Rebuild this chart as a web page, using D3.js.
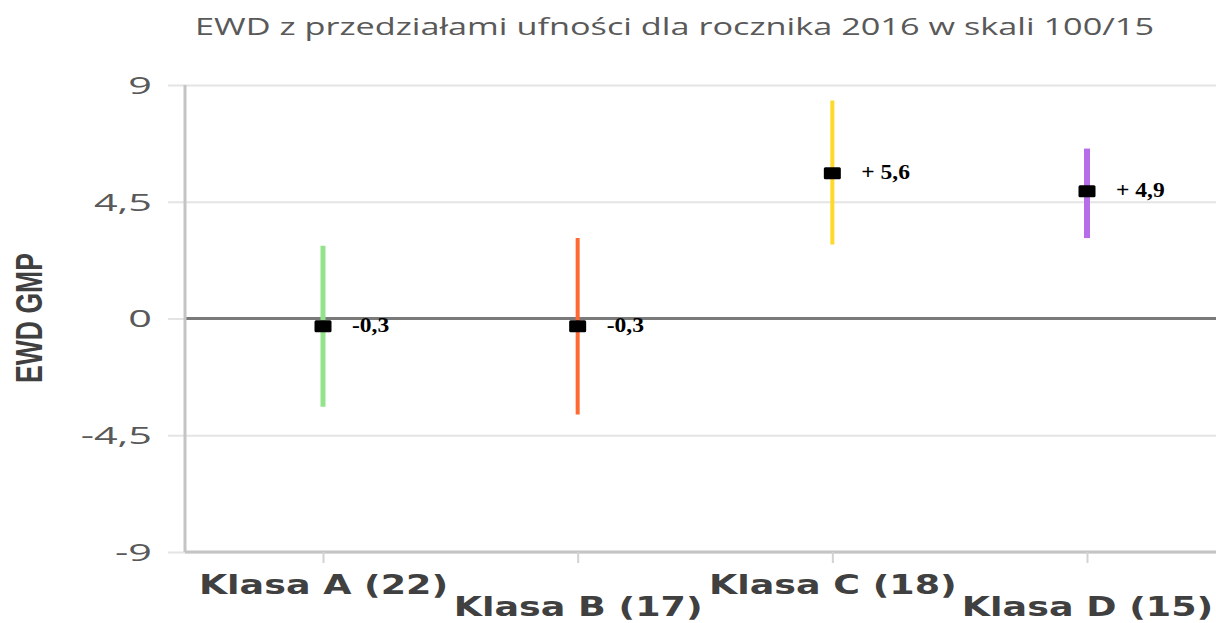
<!DOCTYPE html>
<html>
<head>
<meta charset="utf-8">
<script src="https://cdn.jsdelivr.net/npm/d3@7"></script>
<style>
  body { margin: 0; background: #fff; }
  svg { display: block; }
</style>
</head>
<body>
<div id="graf"></div>
<script>
// dane
var klasy = ['Klasa A (22)', 'Klasa B (17)', 'Klasa C (18)', 'Klasa D (15)']
var ewd = [-0.3, -0.3, 5.6, 4.9]
var dolna = [-3.4, -3.7, 2.85, 3.1]
var gorna = [2.8, 3.1, 8.4, 6.55]
var etykiety = ['-0,3', '-0,3', '+ 5,6', '+ 4,9']
var yTicks = [-9, -4.5, 0, 4.5, 9]
var tytul = 'EWD z przedziałami ufności dla rocznika 2016 w skali 100/15'
var tytulOsiY = 'EWD GMP'

var kolory = ['#92e38b', '#ff6a33', '#ffd92a', '#b76ce9']
var grubosci = [5, 4, 4, 6]

var ancho_total = 1216, alto_total = 623
var margins = { top: 85, left: 185, right: 0, bottom: 71 }
var ancho = ancho_total - margins.left - margins.right
var alto = alto_total - margins.top - margins.bottom

// rozciąganie tekstu w poziomie (obraz jest poszerzony)
function rozciagnij(sel, k) {
  sel.each(function() {
    var w = this.getComputedTextLength()
    d3.select(this).attr('textLength', w * k).attr('lengthAdjust', 'spacingAndGlyphs')
  })
}

var svg = d3.select('#graf').append('svg')
  .attr('width', ancho_total)
  .attr('height', alto_total)

var g = svg.append('g')
  .attr('transform', `translate(${margins.left}, ${margins.top})`)

var x = d3.scalePoint().domain(klasy).range([138, 902])
var y = d3.scaleLinear().domain([-9, 9]).range([alto, 0])

var loc = d3.formatLocale({ decimal: ',', thousands: ' ', grouping: [3], currency: ['', ''], minus: '-' })
var fmt = loc.format('~g')

// siatka + oś Y
var yAxis = g.append('g')
  .attr('transform', 'translate(-17, 0)')
  .call(d3.axisLeft(y).tickValues(yTicks).tickSize(-(ancho + 17)).tickPadding(16).tickFormat(fmt))
yAxis.select('.domain').remove()
yAxis.selectAll('line').attr('stroke', '#e4e4e4').attr('stroke-width', 2)
yAxis.selectAll('text')
  .attr('fill', '#595959')
  .style('font-family', '"Open Sans", sans-serif')
  .style('font-size', '23px')
  .attr('dy', '0.36em')
rozciagnij(yAxis.selectAll('text'), 1.8)

// linia zera
g.append('line')
  .attr('x1', 0).attr('x2', ancho)
  .attr('y1', y(0)).attr('y2', y(0))
  .attr('stroke', '#7a7a7a').attr('stroke-width', 3)

// osie
g.append('line')
  .attr('x1', 0).attr('x2', 0).attr('y1', 0).attr('y2', alto)
  .attr('stroke', '#c4c4c4').attr('stroke-width', 3)
g.append('line')
  .attr('x1', 0).attr('x2', ancho).attr('y1', alto).attr('y2', alto)
  .attr('stroke', '#c4c4c4').attr('stroke-width', 3)

// oś X
var xAxis = g.append('g')
  .attr('transform', `translate(0, ${alto})`)
  .call(d3.axisBottom(x).tickSize(11).tickPadding(14))
xAxis.select('.domain').remove()
xAxis.selectAll('line').attr('stroke', '#d2d2d2').attr('stroke-width', 2)
xAxis.selectAll('text')
  .attr('fill', '#404040')
  .style('font-family', '"DejaVu Sans", sans-serif')
  .style('font-weight', 'bold')
  .style('font-size', '27px')
  .attr('y', (d, i) => i % 2 === 0 ? 42 : 64)
  .attr('dy', 0)
rozciagnij(xAxis.selectAll('text'), 1.35)

// przedziały ufności
var dane = klasy.map((k, i) => ({ klasa: k, ewd: ewd[i], lo: dolna[i], hi: gorna[i], lab: etykiety[i], kolor: kolory[i], sw: grubosci[i] }))

g.selectAll('.przedzial')
  .data(dane)
  .enter().append('line')
  .attr('class', 'przedzial')
  .attr('x1', d => x(d.klasa)).attr('x2', d => x(d.klasa))
  .attr('y1', d => y(d.lo)).attr('y2', d => y(d.hi))
  .attr('stroke', d => d.kolor)
  .attr('stroke-width', d => d.sw)

g.selectAll('.punkt')
  .data(dane)
  .enter().append('rect')
  .attr('class', 'punkt')
  .attr('x', d => x(d.klasa) - 8.5)
  .attr('y', d => y(d.ewd) - 6)
  .attr('width', 17).attr('height', 12)
  .attr('rx', 1.5)
  .attr('fill', '#000')

var etyk = g.selectAll('.etykieta')
  .data(dane)
  .enter().append('text')
  .attr('class', 'etykieta')
  .attr('x', d => x(d.klasa) + 29)
  .attr('y', d => y(d.ewd) + 6)
  .style('font-family', '"Liberation Serif", "Times New Roman", serif')
  .style('font-weight', 'bold')
  .style('font-size', '21px')
  .attr('fill', '#000')
  .text(d => d.lab)
rozciagnij(etyk, 1.12)

// tytuł
svg.append('text')
  .attr('x', 674.5).attr('y', 35)
  .attr('text-anchor', 'middle')
  .attr('fill', '#595959')
  .style('font-family', '"Open Sans", sans-serif')
  .style('font-size', '24px')
  .attr('textLength', 959).attr('lengthAdjust', 'spacingAndGlyphs')
  .text(tytul)

// tytuł osi Y
svg.append('g')
  .attr('transform', 'translate(28.5, 318) scale(1.8, 1) rotate(-90)')
  .append('text')
  .attr('text-anchor', 'middle')
  .attr('dy', '0.36em')
  .attr('fill', '#404040')
  .style('font-family', '"Liberation Sans", sans-serif')
  .style('font-weight', 'bold')
  .style('font-size', '21px')
  .attr('textLength', 130).attr('lengthAdjust', 'spacingAndGlyphs')
  .text(tytulOsiY)
</script>
</body>
</html>
